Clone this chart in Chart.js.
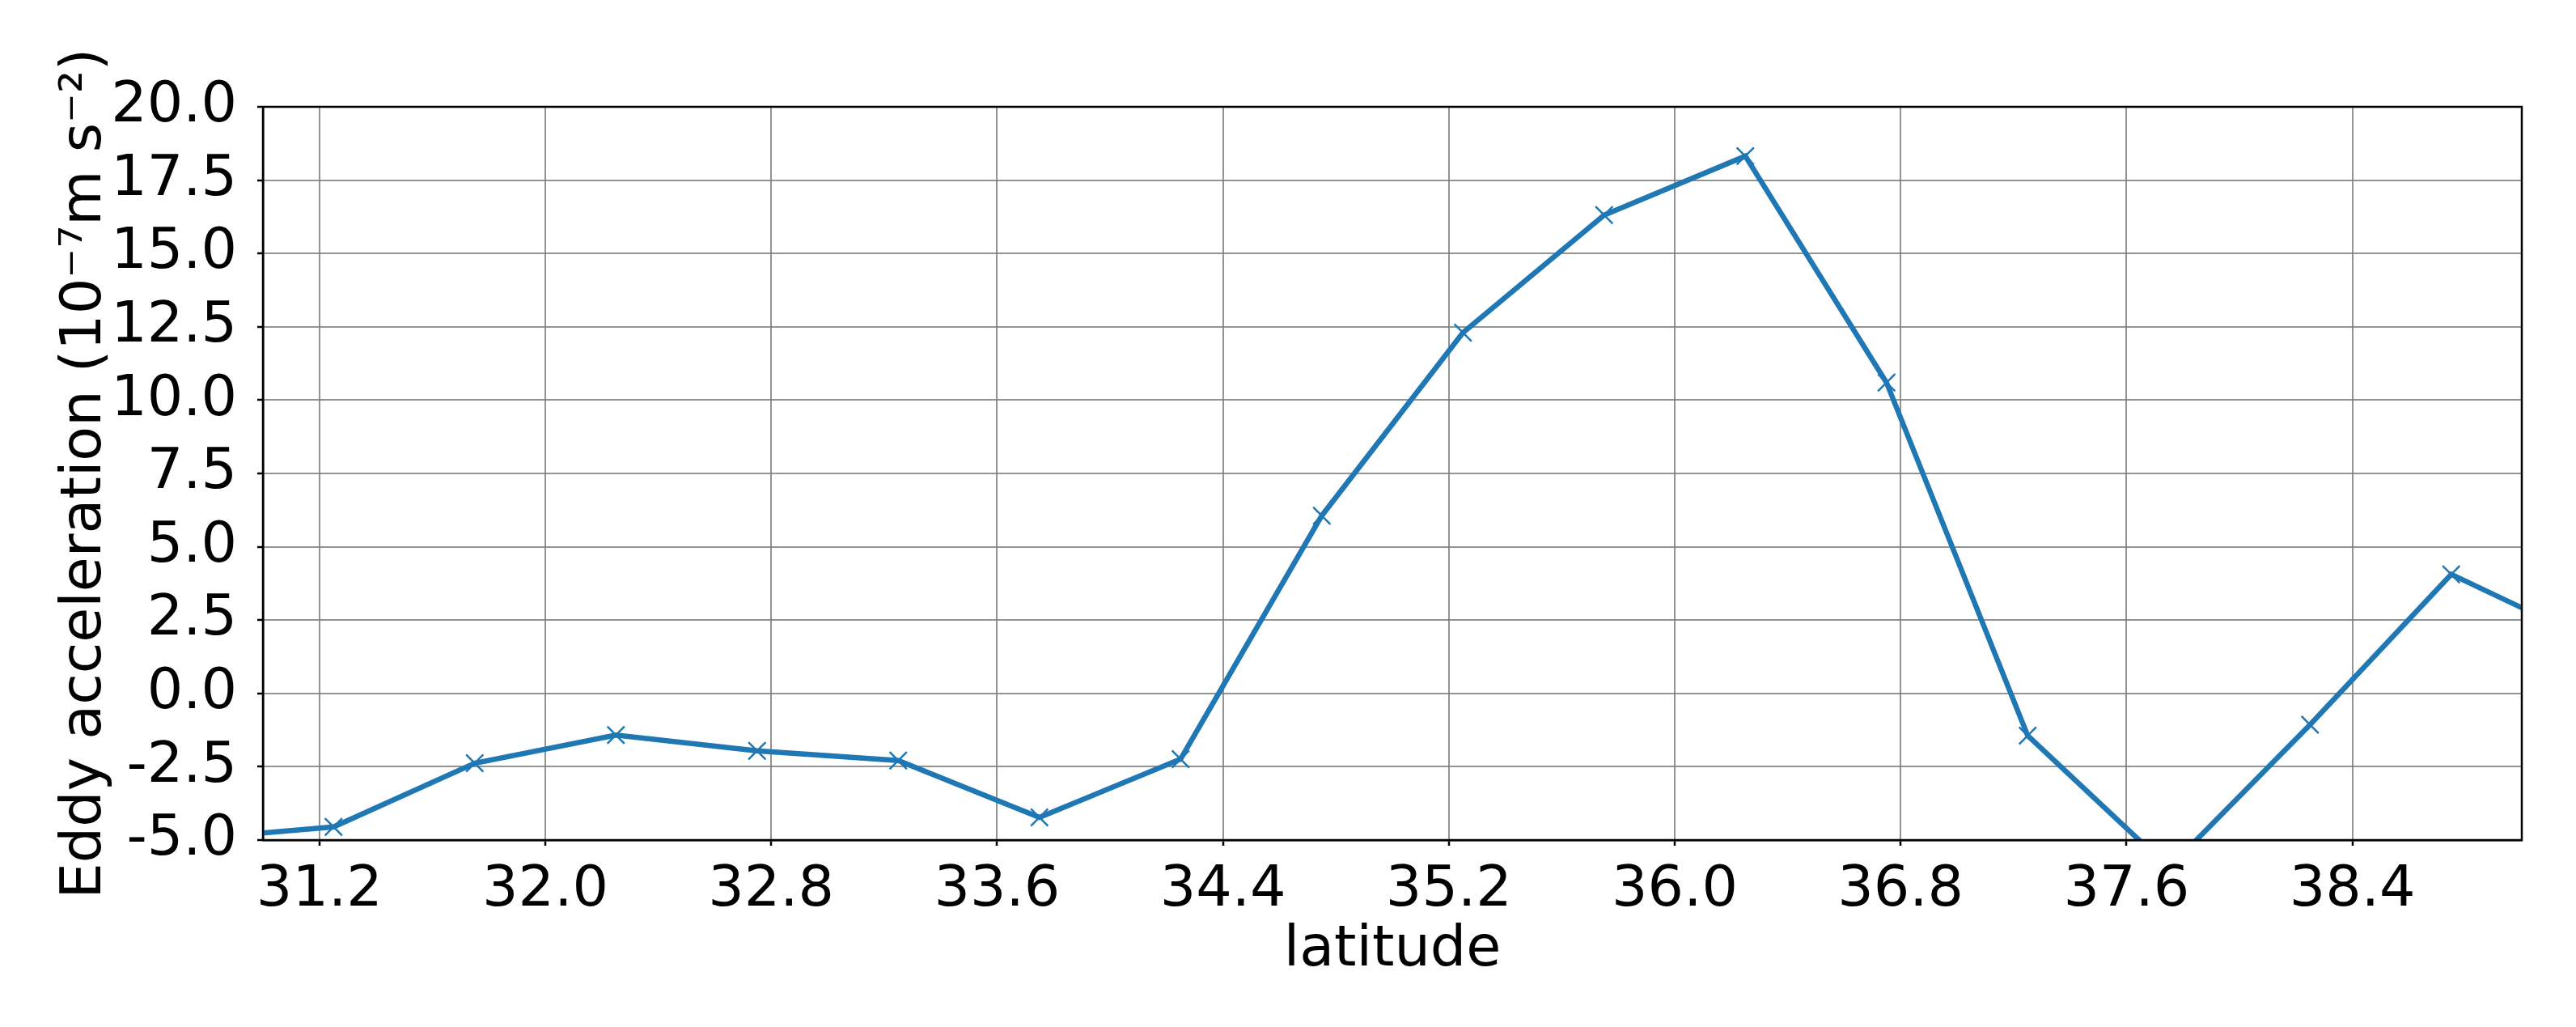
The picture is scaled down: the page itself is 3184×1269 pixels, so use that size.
<!DOCTYPE html>
<html>
<head>
<meta charset="utf-8">
<script src="https://cdn.jsdelivr.net/npm/chart.js@4/dist/chart.umd.min.js"></script>
<style>
    html, body { margin: 0; padding: 0; background: #ffffff; }
    #wrap { width: 3184px; height: 1269px; }
</style>
</head>
<body>
<div id="wrap"><canvas id="eddyChart" width="3184" height="1269"></canvas></div>
<script>
// Data
const latitude = [30.75, 31.25, 31.75, 32.25, 32.75, 33.25, 33.75, 34.25, 34.75,
                  35.25, 35.75, 36.25, 36.75, 37.25, 37.75, 38.25, 38.75, 39.25];
const eddyAcceleration = [-4.97, -4.55, -2.38, -1.42, -1.96, -2.29, -4.23, -2.24, 6.06,
                          12.30, 16.31, 18.32, 10.60, -1.44, -5.95, -1.07, 4.06, 1.78];
const xTickValues = [31.2, 32.0, 32.8, 33.6, 34.4, 35.2, 36.0, 36.8, 37.6, 38.4];
const yTickValues = [-5.0, -2.5, 0.0, 2.5, 5.0, 7.5, 10.0, 12.5, 15.0, 17.5, 20.0];

const FONT = 'DejaVu Sans';
const LINE_BLUE = '#1f77b4';
const GRID_GREY = 'rgba(128,128,128,0.85)';

// Frame on top and right side of the plot, like matplotlib spines
const framePlugin = {
    id: 'frame',
    afterDraw(chart) {
        const a = chart.chartArea;
        const ctx = chart.ctx;
        ctx.save();
        ctx.strokeStyle = '#000000';
        ctx.lineWidth = 2.5;
        ctx.strokeRect(a.left, a.top, a.right - a.left, a.bottom - a.top);
        ctx.restore();
    }
};

function initializeEddyChart() {
    const ctx = document.getElementById('eddyChart').getContext('2d');
    const points = latitude.map((lat, i) => ({ x: lat, y: eddyAcceleration[i] }));

    window.eddyChart = new Chart(ctx, {
        type: 'line',
        data: {
            datasets: [{
                data: points,
                borderColor: LINE_BLUE,
                borderWidth: 6.5,
                pointStyle: 'crossRot',
                pointRadius: 15,
                pointBorderWidth: 2.5,
                pointBorderColor: LINE_BLUE,
                pointBackgroundColor: LINE_BLUE,
                tension: 0,
                clip: 0
            }]
        },
        options: {
            responsive: false,
            animation: false,
            devicePixelRatio: 1,
            layout: {
                padding: { top: 132, right: 67, left: 0, bottom: 0 }
            },
            plugins: {
                legend: { display: false },
                tooltip: { enabled: false }
            },
            scales: {
                x: {
                    type: 'linear',
                    min: 31,
                    max: 39,
                    afterBuildTicks: scale => {
                        scale.ticks = xTickValues.map(v => ({ value: v }));
                    },
                    afterFit: scale => { scale.height = 231; },
                    ticks: {
                        color: '#000000',
                        font: { family: FONT, size: 70 },
                        padding: 14,
                        maxRotation: 0,
                        autoSkip: false,
                        callback: v => v.toFixed(1)
                    },
                    grid: {
                        color: GRID_GREY,
                        lineWidth: 2,
                        tickColor: '#000000',
                        tickLength: 7,
                        tickWidth: 2.5
                    },
                    border: { color: '#000000', width: 2.5 },
                    title: {
                        display: true,
                        text: 'latitude',
                        color: '#000000',
                        font: { family: FONT, size: 70 },
                        padding: { top: 0, bottom: 52 }
                    }
                },
                y: {
                    type: 'linear',
                    min: -5,
                    max: 20,
                    afterBuildTicks: scale => {
                        scale.ticks = yTickValues.map(v => ({ value: v }));
                    },
                    afterFit: scale => { scale.width = 325; },
                    ticks: {
                        color: '#000000',
                        font: { family: FONT, size: 70 },
                        padding: 25,
                        autoSkip: false,
                        callback: v => v.toFixed(1)
                    },
                    grid: {
                        color: GRID_GREY,
                        lineWidth: 2,
                        tickColor: '#000000',
                        tickLength: 7,
                        tickWidth: 2.5
                    },
                    border: { color: '#000000', width: 2.5 },
                    title: {
                        display: true,
                        text: 'Eddy acceleration (10\u207B\u2077m s\u207B\u00B2)',
                        color: '#000000',
                        font: { family: FONT, size: 70 },
                        padding: { top: 64, bottom: 0 }
                    }
                }
            }
        },
        plugins: [framePlugin]
    });
}

document.addEventListener('DOMContentLoaded', function() {
    initializeEddyChart();
});
</script>
</body>
</html>
